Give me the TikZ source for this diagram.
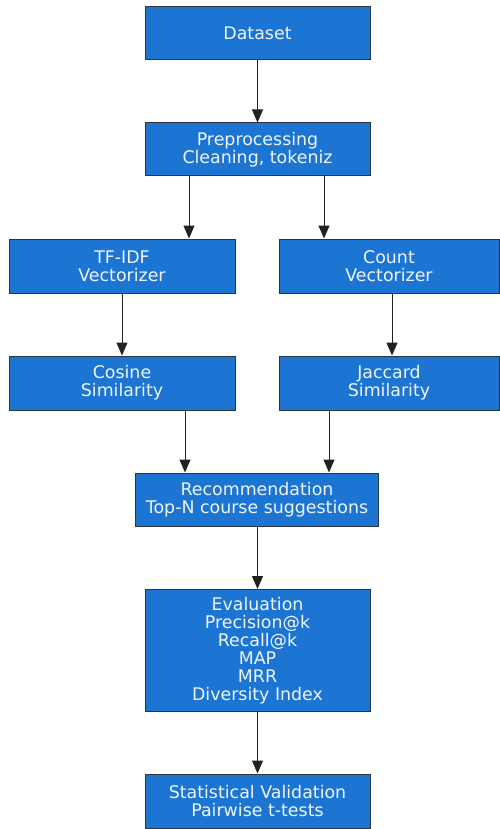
\documentclass[tikz,border=0pt]{standalone}
\usepackage{fontspec}
\setmainfont{DejaVu Sans}
\usetikzlibrary{arrows.meta}
\definecolor{boxfill}{HTML}{1C75D3}
\definecolor{boxline}{HTML}{2B3440}
\definecolor{boxtext}{HTML}{EEF4FF}
\definecolor{arrline}{HTML}{222222}
\tikzset{
  stepbox/.style={draw=boxline, line width=1pt, fill=boxfill, text=boxtext,
    align=center, inner sep=0pt, font=\fontsize{17.4}{18}\selectfont},
  arr/.style={draw=arrline, line width=1pt, -{Triangle[length=13pt,width=11pt]}}
}
\begin{document}
\begin{tikzpicture}[x=1pt,y=1pt]
\useasboundingbox (0,0) rectangle (500,-829);
\node[stepbox, minimum width=225pt, minimum height=53pt] (data) at (257.5,-33.5) {Dataset};
\node[stepbox, minimum width=225pt, minimum height=53pt] (pre) at (257.5,-149.5) {Preprocessing\\Cleaning, tokeniz};
\node[stepbox, minimum width=226pt, minimum height=54pt] (tfidf) at (122,-266) {TF-IDF\\Vectorizer};
\node[stepbox, minimum width=220pt, minimum height=54pt] (count) at (389,-266) {Count\\Vectorizer};
\node[stepbox, minimum width=226pt, minimum height=54pt] (cos) at (122,-383) {Cosine\\Similarity};
\node[stepbox, minimum width=220pt, minimum height=54pt] (jac) at (389,-383) {Jaccard\\Similarity};
\node[stepbox, minimum width=243pt, minimum height=53pt] (rec) at (257,-499.5) {Recommendation\\Top-N course suggestions};
\node[stepbox, minimum width=225pt, minimum height=122pt] (eval) at (257.5,-650.5) {Evaluation\\Precision@k\\Recall@k\\MAP\\MRR\\Diversity Index};
\node[stepbox, minimum width=225pt, minimum height=54pt] (stat) at (257.5,-801) {Statistical Validation\\Pairwise t-tests};
\coordinate (xa) at (189,0);
\coordinate (xb) at (324,0);
\coordinate (xc) at (185,0);
\coordinate (xd) at (329,0);
\coordinate (xe) at (392,0);
\draw[arr] (data.south) -- (pre.north);
\draw[arr] (pre.south -| xa) -- (tfidf.north -| xa);
\draw[arr] (pre.south -| xb) -- (count.north -| xb);
\draw[arr] (tfidf.south) -- (cos.north);
\draw[arr] (count.south -| xe) -- (jac.north -| xe);
\draw[arr] (cos.south -| xc) -- (rec.north -| xc);
\draw[arr] (jac.south -| xd) -- (rec.north -| xd);
\draw[arr] (rec.south -| eval.north) -- (eval.north);
\draw[arr] (eval.south) -- (stat.north);
\end{tikzpicture}
\end{document}
